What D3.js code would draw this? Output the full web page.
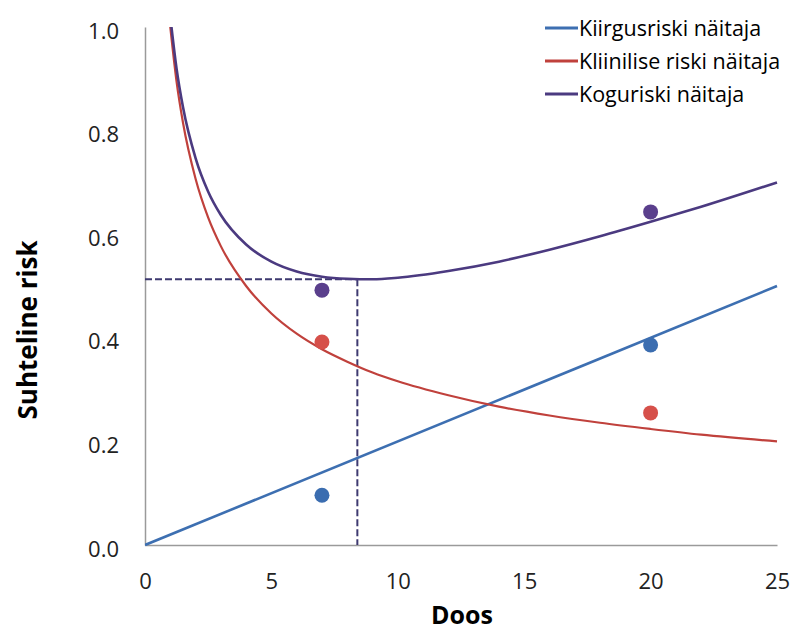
<!DOCTYPE html>
<html>
<head>
<meta charset="utf-8">
<script src="https://cdn.jsdelivr.net/npm/d3@7"></script>
<style>
  body { margin: 0; background: #fff; }
  svg { display: block; font-family: "Open Sans", sans-serif; }
</style>
</head>
<body>
<svg id="chart" width="799" height="632"></svg>
<script>
// values
var doses = [1, 1.25, 1.5, 2, 2.5, 3, 4, 5, 6, 7, 8, 9, 10, 12, 14, 16, 18, 20, 22, 25];
var clinical = [1.0, 0.894, 0.816, 0.707, 0.632, 0.577, 0.5, 0.447, 0.408, 0.378, 0.354, 0.333, 0.316, 0.289, 0.267, 0.25, 0.236, 0.224, 0.213, 0.2];
var total = [1.02, 0.919, 0.846, 0.747, 0.682, 0.637, 0.58, 0.547, 0.528, 0.518, 0.514, 0.513, 0.516, 0.529, 0.547, 0.57, 0.596, 0.624, 0.653, 0.7];
var radDoses = [0, 25];
var radiation = [0, 0.5];
var dotDoses = [7, 20];
var dotRadiation = [0.096, 0.386];
var dotClinical = [0.392, 0.255];
var dotTotal = [0.492, 0.643];
var optDose = 8.4, optRisk = 0.513;
var xTicks = [0, 5, 10, 15, 20, 25];
var yTicks = [0, 0.2, 0.4, 0.6, 0.8, 1.0];
var legendLabels = ["Kiirgusriski näitaja", "Kliinilise riski näitaja", "Koguriski näitaja"];
var colors = ["#3d6fb1", "#c0413c", "#4b3a80"];
var dotColors = ["#3b6db0", "#d6504a", "#5a3f8c"];

var svg = d3.select("#chart");
var x = d3.scaleLinear().domain([0, 25]).range([145, 777]);
var y = d3.scaleLinear().domain([0, 1]).range([545, 27]);

svg.append("defs").append("clipPath").attr("id", "clip")
  .append("rect").attr("x", 145).attr("y", 27).attr("width", 640).attr("height", 520);

// axes
var xAxis = svg.append("g").attr("transform", "translate(0,545)")
  .call(d3.axisBottom(x).tickValues(xTicks).tickSize(0).tickPadding(28).tickFormat(d3.format("d")));
var yAxis = svg.append("g").attr("transform", "translate(145,0)")
  .call(d3.axisLeft(y).tickValues(yTicks).tickSize(0).tickPadding(26).tickFormat(d3.format(".1f")));
[xAxis, yAxis].forEach(function (a) {
  a.attr("font-family", "Open Sans, sans-serif").attr("font-size", 22);
  a.select(".domain").attr("stroke", "#9a9a9a").attr("stroke-width", 1.5);
  a.selectAll(".tick text").attr("fill", "#222");
});
yAxis.selectAll(".tick text").attr("dy", "0.5em");

// dashed optimum guide
var guide = svg.append("g").attr("stroke", "#3e3a70").attr("stroke-width", 2)
  .attr("stroke-dasharray", "7,3").attr("fill", "none");
guide.append("line").attr("x1", x(0)).attr("x2", x(optDose)).attr("y1", y(optRisk)).attr("y2", y(optRisk));
guide.append("line").attr("x1", x(optDose)).attr("x2", x(optDose)).attr("y1", y(optRisk)).attr("y2", y(0));

var line = d3.line().x(function (d) { return x(d[0]); }).y(function (d) { return y(d[1]); })
  .curve(d3.curveMonotoneX);
var series = [
  d3.zip(radDoses, radiation),
  d3.zip(doses, clinical),
  d3.zip(doses, total)
];
var plot = svg.append("g").attr("clip-path", "url(#clip)");
series.forEach(function (s, i) {
  plot.append("path").attr("d", line(s)).attr("fill", "none")
    .attr("stroke", colors[i]).attr("stroke-width", i == 1 ? 2.2 : 2.6);
});

// observed points
var dotSets = [dotRadiation, dotClinical, dotTotal];
dotSets.forEach(function (vals, i) {
  svg.append("g").selectAll("circle").data(d3.zip(dotDoses, vals)).enter()
    .append("circle")
    .attr("cx", function (d) { return x(d[0]); })
    .attr("cy", function (d) { return y(d[1]); })
    .attr("r", 7.5)
    .attr("fill", dotColors[i]);
});

// legend
var legend = svg.append("g").attr("transform", "translate(545,28)");
legendLabels.forEach(function (lbl, i) {
  var row = legend.append("g").attr("transform", "translate(0," + (i * 33) + ")");
  row.append("line").attr("x1", 0).attr("x2", 33).attr("y1", 0).attr("y2", 0)
    .attr("stroke", colors[i]).attr("stroke-width", 3);
  row.append("text").attr("x", 34).attr("y", 0).attr("dy", "0.35em")
    .attr("font-size", 21.5).attr("fill", "#000").text(lbl);
});

// axis titles
svg.append("text").attr("x", 462).attr("y", 624).attr("text-anchor", "middle")
  .attr("font-size", 25).attr("font-weight", "bold").text("Doos");
svg.append("text").attr("transform", "translate(37,330) rotate(-90)").attr("text-anchor", "middle")
  .attr("font-size", 26).attr("font-weight", "bold").text("Suhteline risk");
</script>
</body>
</html>
